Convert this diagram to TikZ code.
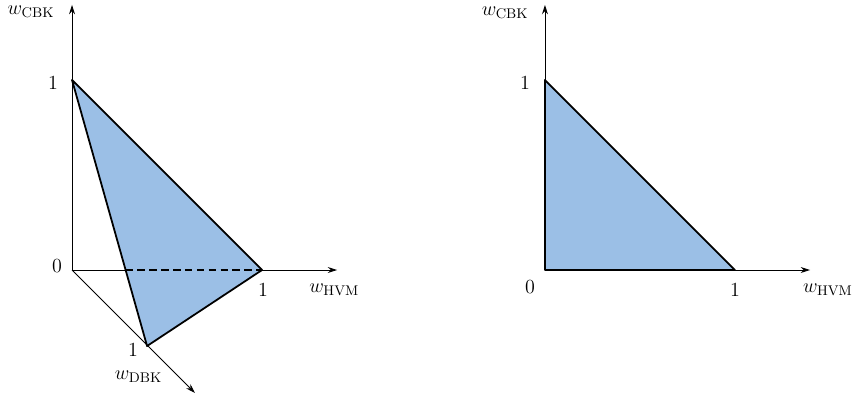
\documentclass[tikz,border=0pt]{standalone}
\usepackage{fix-cm}
\usetikzlibrary{arrows.meta,calc}
\definecolor{simplexFill}{HTML}{9BBFE6}
\tikzset{
  axis/.style={-{Stealth[length=2.2mm,width=1.4mm]},line width=0.6pt},
  edge/.style={line width=1.2pt,line join=round},
  hidden/.style={line width=0.7pt,dash pattern=on 5pt off 3pt},
  every node/.style={font=\fontsize{13.5}{16}\selectfont},
}

\begin{document}
\begin{tikzpicture}[x=4.5cm,y=4.5cm]
  \useasboundingbox (-0.379,-0.668) rectangle (4.126,1.421);
  % left: three weights
  \coordinate (O) at (0,0);
  \coordinate (X) at (1,0);
  \coordinate (Y) at (0,1);
  \coordinate (Z) at (0.395,-0.4);
  \coordinate (Xend) at (1.395,0);
  \coordinate (Yend) at (0,1.395);
  \coordinate (Zend) at (0.647,-0.647);
  \coordinate (C) at (intersection of Y--Z and O--X);
  \fill[simplexFill] (Y)--(X)--(Z)--cycle;
  \draw[axis] (O)--(Yend);
  \draw[line width=0.6pt] (O)--(C);
  \draw[hidden] (C)--(X);
  \draw[axis] (X)--(Xend);
  \draw[axis] (O)--(Zend);
  \draw[edge] (Y)--(X)--(Z)--cycle;
  \node (wc) at (-0.216,1.358) {$w_{\mathrm{CBK}}$};
  \node (y1) at (-0.1,0.984) {$1$};
  \node (o0) at (-0.079,0.02) {$0$};
  \node (x1) at (1.005,-0.105) {$1$};
  \node (wh) at (1.38,-0.105) {$w_{\mathrm{HVM}}$};
  \node (z1) at (0.321,-0.421) {$1$};
  \node (wd) at (0.35,-0.563) {$w_{\mathrm{DBK}}$};
  % right: two weights
  \begin{scope}[xshift=2.489*4.5cm]
    \coordinate (O2) at (0,0);
    \coordinate (X2) at (1,0);
    \coordinate (Y2) at (0,1);
    \coordinate (X2end) at (1.395,0);
    \coordinate (Y2end) at (0,1.395);
    \fill[simplexFill] (O2)--(X2)--(Y2)--cycle;
    \draw[axis] (O2)--(Y2end);
    \draw[axis] (O2)--(X2end);
    \draw[edge] (O2)--(X2)--(Y2)--cycle;
    \node (wc2) at (-0.21,1.353) {$w_{\mathrm{CBK}}$};
    \node (y12) at (-0.105,0.984) {$1$};
    \node (o02) at (-0.079,-0.089) {$0$};
    \node (x12) at (1.0,-0.105) {$1$};
    \node (wh2) at (1.489,-0.105) {$w_{\mathrm{HVM}}$};
  \end{scope}
\end{tikzpicture}
\end{document}
